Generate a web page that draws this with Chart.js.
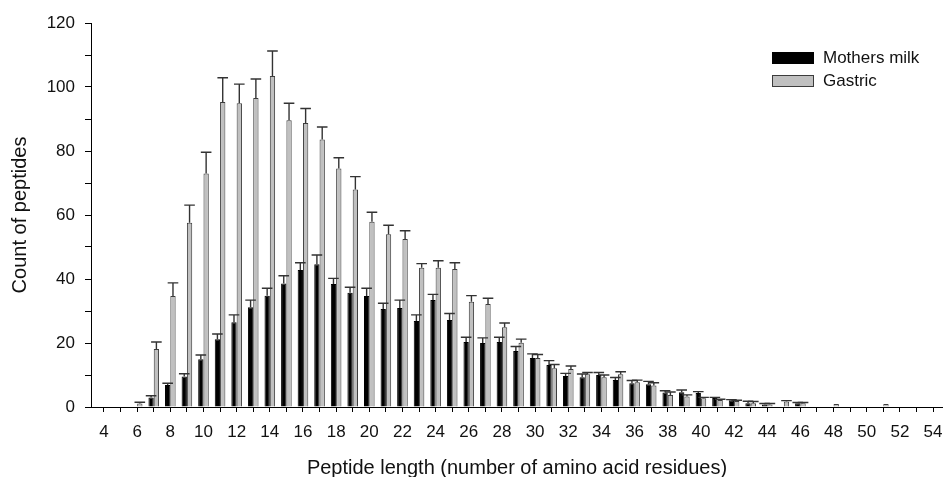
<!DOCTYPE html>
<html><head><meta charset="utf-8">
<script src="https://cdn.jsdelivr.net/npm/chart.js@4.4.0/dist/chart.umd.min.js"></script>
<style>html,body{margin:0;padding:0;background:#fff}#wrap{width:943px;height:477px}</style>
</head><body><div id="wrap"><canvas id="c" width="943" height="477"></canvas></div>
<script>
const lengths = [4,5,6,7,8,9,10,11,12,13,14,15,16,17,18,19,20,21,22,23,24,25,26,27,28,29,30,31,32,33,34,35,36,37,38,39,40,41,42,43,44,45,46,47,48,49,50,51,52,53,54];
const milkCounts = [0,0,0,3.0,6.9,9.5,14.9,21.2,26.5,31.2,34.8,38.6,42.8,44.6,38.4,35.7,34.7,30.6,30.9,26.9,33.4,27.2,20.3,20.0,20.3,17.5,15.3,13.1,9.7,9.3,10.0,8.4,7.4,7.1,4.5,4.6,4.4,2.8,2.1,1.15,0.8,0,1.2,0,0,0,0,0,0,0,0];
const milkErrors = [0,0,0,0.5,0.5,0.9,1.35,1.6,2.3,2.2,2.3,2.4,2.3,2.9,1.8,1.7,2.4,1.8,2.5,1.9,1.8,2.0,1.5,1.6,1.5,1.4,1.3,1.4,0.8,1.0,0.8,0.8,0.9,0.9,0.6,0.7,0.4,0.2,0.2,0.65,0.3,0,0.2,0,0,0,0,0,0,0,0];
const gastricCounts = [0,0,1.1,18.1,34.7,57.6,73.0,95.3,94.9,96.6,103.4,89.6,88.75,83.6,74.5,68.0,57.9,54.0,52.5,43.5,43.5,43.1,32.9,32.2,24.9,20.1,15.3,12.1,11.9,10.2,9.3,10.2,7.7,6.7,3.75,3.3,2.7,2.2,1.9,1.15,0.8,1.7,1.2,0,0.9,0,0,0.9,0,0,0];
const gastricErrors = [0,0,0.4,2.2,4.1,5.5,6.6,7.6,6.0,5.9,7.85,5.3,4.55,3.9,3.4,4.0,2.95,2.8,2.6,1.3,2.2,2.0,1.9,1.8,1.35,1.1,1.1,1.2,0.9,0.6,0.7,0.8,0.7,0.9,0.95,0.5,0.3,0.2,0.2,0.55,0.3,0.3,0.2,0,0,0,0,0,0,0,0];
const seriesNames = ['Mothers milk', 'Gastric'];
const xTitle = 'Peptide length (number of amino acid residues)';
const yTitle = 'Count of peptides';

const FONT = '"Liberation Sans", Arial, sans-serif';
const TXT = '#111';

const errorBarPlugin = {
  id: 'errbars',
  afterDatasetsDraw(chart) {
    const ctx = chart.ctx, ys = chart.scales.y;
    chart.data.datasets.forEach((ds, i) => {
      const meta = chart.getDatasetMeta(i);
      meta.data.forEach((bar, j) => {
        const e = ds.errors[j];
        if (!e) return;
        const top = ys.getPixelForValue(ds.data[j].y + e);
        const cx = bar.x, half = bar.width;
        ctx.save();
        ctx.strokeStyle = '#333';
        ctx.lineWidth = 1.4;
        ctx.beginPath();
        ctx.moveTo(cx, bar.y); ctx.lineTo(cx, top);
        ctx.moveTo(cx - half, top); ctx.lineTo(cx + half, top);
        ctx.stroke();
        ctx.restore();
      });
    });
  }
};

const legendPlugin = {
  id: 'customLegend',
  afterDraw(chart) {
    const ctx = chart.ctx;
    ctx.save();
    const items = chart.data.datasets;
    const x0 = 772, w = 41, h = 11;
    const ys = [52, 75];
    items.forEach((ds, i) => {
      ctx.fillStyle = ds.backgroundColor;
      ctx.fillRect(x0 + 0.5, ys[i] + 0.5, w, h);
      ctx.strokeStyle = ds.borderColor;
      ctx.lineWidth = 1;
      ctx.strokeRect(x0 + 0.5, ys[i] + 0.5, w, h);
      ctx.fillStyle = TXT;
      ctx.font = '17px ' + FONT;
      ctx.textBaseline = 'middle';
      ctx.textAlign = 'left';
      ctx.fillText(ds.label, 823, ys[i] + h / 2 + 1);
    });
    ctx.restore();
  }
};

const ctx = document.getElementById('c').getContext('2d');
new Chart(ctx, {
  type: 'bar',
  data: {
    datasets: [
      {
        label: seriesNames[0],
        data: lengths.map((x, i) => ({x: x, y: milkCounts[i]})),
        errors: milkErrors,
        backgroundColor: '#000000',
        borderColor: '#000000',
        borderWidth: 1,
        categoryPercentage: 0.64,
        barPercentage: 1.0
      },
      {
        label: seriesNames[1],
        data: lengths.map((x, i) => ({x: x, y: gastricCounts[i]})),
        errors: gastricErrors,
        backgroundColor: '#c0c0c0',
        borderColor: '#3c3c3c',
        borderWidth: 1,
        categoryPercentage: 0.64,
        barPercentage: 1.0
      }
    ]
  },
  options: {
    responsive: false,
    animation: false,
    devicePixelRatio: 1,
    layout: {padding: {left: 0, right: 0, top: 23, bottom: 0}},
    plugins: {legend: {display: false}, tooltip: {enabled: false}},
    scales: {
      x: {
        type: 'linear',
        min: 3.216,
        max: 54.6,
        offset: false,
        grid: {offset: false, drawOnChartArea: false, drawTicks: true, tickLength: 5, color: '#000', tickColor: '#000', tickWidth: 1},
        border: {display: true, color: '#000', width: 1},
        ticks: {
          stepSize: 1, includeBounds: false, autoSkip: false, maxRotation: 0, minRotation: 0, maxTicksLimit: 100,
          padding: 10, color: TXT, font: {family: FONT, size: 17},
          callback: (v) => (v % 2 === 0 ? String(v) : '')
        },
        title: {display: true, text: xTitle, color: TXT, font: {family: FONT, size: 20}, padding: {top: -3, bottom: -3}},
        afterFit: (s) => { s.height = 70; s.paddingLeft = 0; s.paddingRight = 0; }
      },
      y: {
        type: 'linear',
        min: 0, max: 120,
        grid: {drawOnChartArea: false, drawTicks: true, tickLength: 6, color: '#000', tickColor: '#000', tickWidth: 1},
        border: {display: true, color: '#000', width: 1},
        ticks: {
          stepSize: 10, autoSkip: false, padding: 10, color: TXT, font: {family: FONT, size: 17},
          callback: (v) => (v % 20 === 0 ? String(v) : '')
        },
        title: {display: true, text: yTitle, color: TXT, font: {family: FONT, size: 20}, padding: {top: 8, bottom: 0}},
        afterFit: (s) => { s.width = 91; }
      }
    }
  },
  plugins: [errorBarPlugin, legendPlugin]
});
</script>
</body></html>
